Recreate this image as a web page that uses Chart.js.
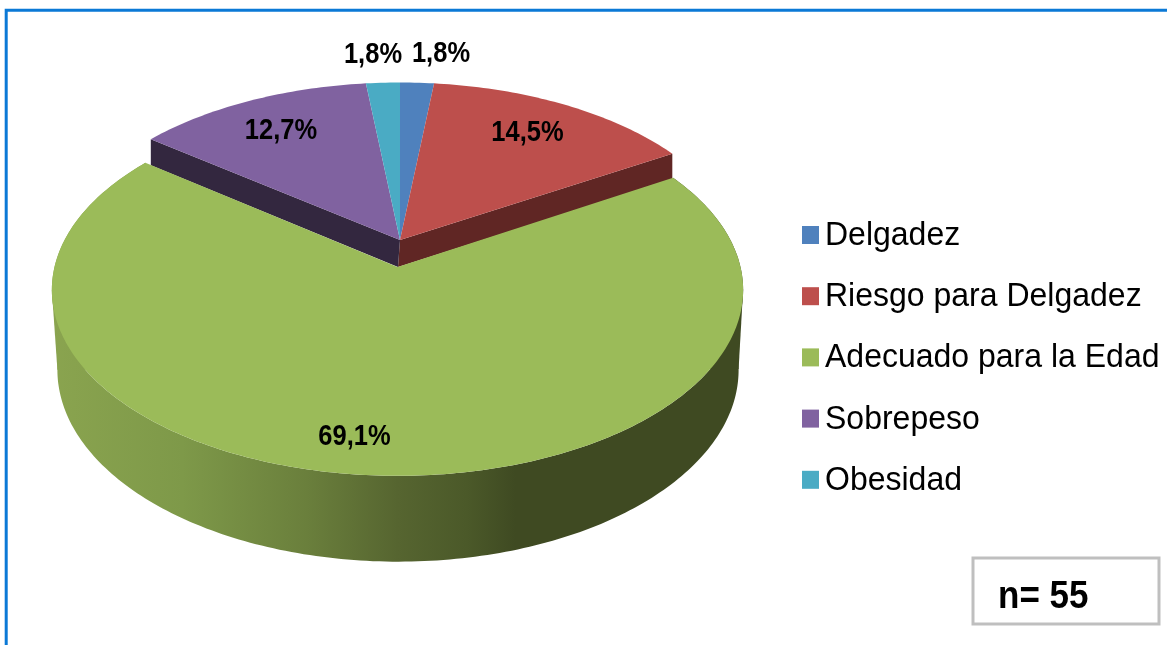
<!DOCTYPE html>
<html lang="es">
<head>
<meta charset="utf-8">
<title>Estado nutricional</title>
<style>
  html, body { margin: 0; padding: 0; background: #fff; overflow: hidden; }
  canvas { display: block; filter: blur(0.6px); }
</style>
<script src="https://cdn.jsdelivr.net/npm/chart.js@4"></script>
</head>
<body>
<canvas id="pie3d" width="1167" height="645"></canvas>
<script>
// values
const categories = ['Delgadez', 'Riesgo para Delgadez', 'Adecuado para la Edad', 'Sobrepeso', 'Obesidad'];
const shares = [1.8, 14.5, 69.1, 12.7, 1.8];
const sliceColors = ['#4f81bd', '#bd4f4c', '#9bbb59', '#8062a0', '#4aabc4'];
const wallColors = [null, '#602624', null, '#33273f', null];
const sliceOffsets = [0, 0, 27, 0, 0];
const sampleSize = 'n= 55';

const FONT = '"Liberation Sans", Arial, sans-serif';
// perspective of the tilted disc: k makes the front of the ellipse bigger than the back
const K = 0.1236;
const backView = { dx: 0, dy: 0, a: 339, b: 177 };
const frontView = { dx: -2.5, dy: 0, a: 343, b: 183 };
const floorView = { dx: -2, dy: 79, a: 338, b: 189 };
const WALL_DEPTH = 26;
const labelSpots = [[441, 62], [527.5, 141], [354.5, 445], [281, 139], [373, 63]];

function project(arc, view, angle) {
  const u = Math.cos(angle), v = -Math.sin(angle);
  const w = 1 + K * v;
  return { x: arc.x + view.dx + view.a * u / w, y: arc.y + view.dy + arc.options.offset - view.b * v / w };
}

function rimPoints(arc, view, reverse) {
  const pts = [];
  const steps = Math.max(2, Math.ceil((arc.endAngle - arc.startAngle) * 60));
  for (let i = 0; i <= steps; i++) {
    const t = reverse ? 1 - i / steps : i / steps;
    pts.push(project(arc, view, arc.startAngle + (arc.endAngle - arc.startAngle) * t));
  }
  return pts;
}

function fillPath(ctx, pts, color) {
  ctx.beginPath();
  pts.forEach((p, i) => i ? ctx.lineTo(p.x, p.y) : ctx.moveTo(p.x, p.y));
  ctx.closePath();
  ctx.fillStyle = color;
  ctx.fill();
}

function topFace(ctx, arc, view, color) {
  const apex = { x: arc.x + view.dx, y: arc.y + arc.options.offset };
  fillPath(ctx, [apex].concat(rimPoints(arc, view)), color);
}

function cutWall(ctx, arc, view, angle, color) {
  const apex = { x: arc.x, y: arc.y };
  const rim = project(arc, view, angle);
  fillPath(ctx, [
    apex, rim,
    { x: rim.x, y: rim.y + WALL_DEPTH },
    { x: apex.x - 2, y: apex.y + WALL_DEPTH + 1 }
  ], color);
}

function extremes(pts) {
  return pts.reduce((acc, p) => ({
    left: p.x < acc.left.x ? p : acc.left,
    right: p.x > acc.right.x ? p : acc.right
  }), { left: pts[0], right: pts[0] });
}

function sideWall(ctx, arc) {
  const top = rimPoints(arc, frontView);
  const floor = rimPoints(arc, floorView, true);
  const fill = sideGradient(ctx);
  const a = extremes(top), b = extremes(floor);
  // tangent strip between both rims, so the outline has no notch at the sides
  fillPath(ctx, [a.left, b.left, b.right, a.right], fill);
  fillPath(ctx, top.concat(floor), fill);
}

function sideGradient(ctx) {
  const g = ctx.createLinearGradient(50, 0, 745, 0);
  g.addColorStop(0, '#8aa44f');
  g.addColorStop(0.19, '#7e9949');
  g.addColorStop(0.37, '#6a7f3c');
  g.addColorStop(0.5, '#566530');
  g.addColorStop(0.6, '#4b5929');
  g.addColorStop(0.67, '#3f4a22');
  g.addColorStop(1, '#3f4a22');
  return g;
}

// the reference text is a little stretched upwards
function tallText(ctx, text, x, y, stretch) {
  ctx.save();
  ctx.translate(x, y);
  ctx.scale(1, stretch);
  ctx.fillText(text, 0, 0);
  ctx.restore();
}

const pie3dPlugin = {
  id: 'pie3d',
  beforeDraw(chart) {
    // outer frame, open on the right and at the bottom
    const ctx = chart.ctx;
    ctx.save();
    ctx.fillStyle = '#fff';
    ctx.fillRect(0, 0, chart.width, chart.height);
    ctx.strokeStyle = '#0b79d6';
    ctx.lineWidth = 3;
    ctx.beginPath();
    ctx.moveTo(6.2, chart.height);
    ctx.lineTo(6.2, 10.2);
    ctx.lineTo(chart.width, 10.2);
    ctx.stroke();
    ctx.restore();
  },
  beforeDatasetsDraw(chart) {
    const ctx = chart.ctx;
    const arcs = chart.getDatasetMeta(0).data;
    ctx.save();
    // back slices and the walls left open by the pulled out slice
    arcs.forEach((arc, i) => {
      if (arc.options.offset) return;
      const prev = arcs[i - 1], next = arcs[i + 1];
      if (next && next.options.offset) cutWall(ctx, arc, backView, arc.endAngle, wallColors[i]);
      if (prev && prev.options.offset) cutWall(ctx, arc, backView, arc.startAngle, wallColors[i]);
    });
    arcs.forEach((arc) => {
      if (!arc.options.offset) topFace(ctx, arc, backView, arc.options.backgroundColor);
    });
    // front slice
    arcs.forEach((arc) => {
      if (!arc.options.offset) return;
      sideWall(ctx, arc);
      topFace(ctx, arc, frontView, arc.options.backgroundColor);
    });
    ctx.restore();
    return false;
  },
  afterDraw(chart) {
    const ctx = chart.ctx;
    const data = chart.data.datasets[0].data;
    ctx.save();
    ctx.fillStyle = '#000';
    ctx.textBaseline = 'alphabetic';
    // percent labels
    ctx.font = 'bold 25.5px ' + FONT;
    ctx.textAlign = 'center';
    data.forEach((v, i) => {
      tallText(ctx, v.toFixed(1).replace('.', ',') + '%', labelSpots[i][0], labelSpots[i][1], 1.13);
    });
    // legend
    ctx.textAlign = 'left';
    ctx.font = '32px ' + FONT;
    chart.data.labels.forEach((label, i) => {
      const base = 245 + i * 61.2;
      ctx.fillStyle = chart.data.datasets[0].backgroundColor[i];
      ctx.fillRect(802, base - 19, 17, 18);
      ctx.fillStyle = '#000';
      tallText(ctx, label, 825, base, 1.05);
    });
    // sample size box
    ctx.strokeStyle = '#bfbfbf';
    ctx.lineWidth = 3;
    ctx.strokeRect(973, 558, 186, 66);
    ctx.font = 'bold 35px ' + FONT;
    tallText(ctx, sampleSize, 998, 608, 1.1);
    ctx.restore();
  }
};

new Chart(document.getElementById('pie3d').getContext('2d'), {
  type: 'pie',
  data: {
    labels: categories,
    datasets: [{
      data: shares,
      backgroundColor: sliceColors,
      offset: sliceOffsets,
      borderWidth: 0
    }]
  },
  options: {
    responsive: false,
    animation: false,
    layout: { padding: { right: 367, bottom: 165 } },
    plugins: {
      legend: { display: false },
      tooltip: { enabled: false }
    }
  },
  plugins: [pie3dPlugin]
});
</script>
</body>
</html>
